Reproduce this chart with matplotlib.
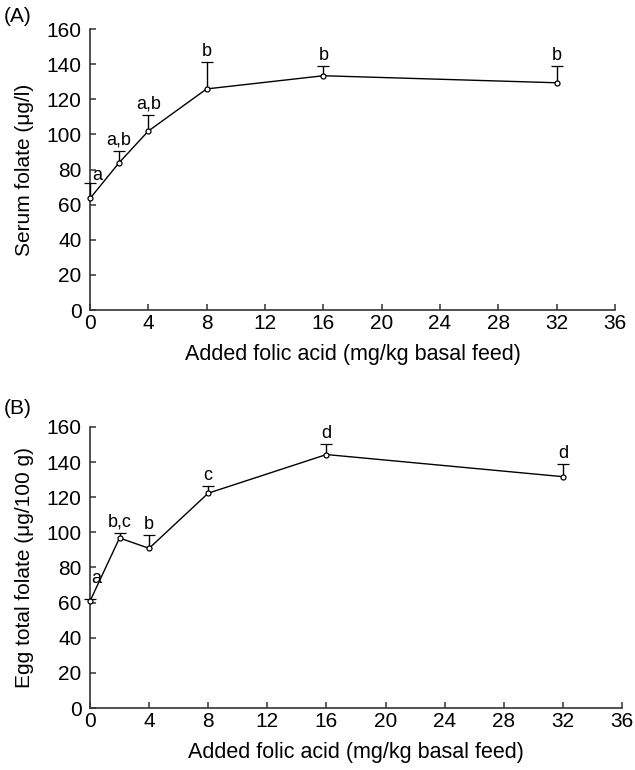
import numpy as np
import matplotlib
matplotlib.use('Agg')
import matplotlib.pyplot as plt

plt.rcParams['font.family'] = ['Liberation Sans', 'DejaVu Sans']

# data
dose = [0, 2, 4, 8, 16, 32]
serum_mean = [63.5, 83.9, 101.9, 125.9, 133.4, 129.4]
serum_err = [9.0, 6.8, 9.3, 15.3, 5.6, 9.7]
serum_letters = ['a', 'a,b', 'a,b', 'b', 'b', 'b']

egg_mean = [60.8, 96.8, 90.9, 122.3, 144.3, 131.7]
egg_err = [1.5, 3.0, 7.6, 4.3, 6.0, 7.1]
egg_letters = ['a', 'b,c', 'b', 'c', 'd', 'd']

xticks = list(range(0, 37, 4))
yticks = list(range(0, 161, 20))

fig = plt.figure(figsize=(6.35, 7.7), dpi=100)
axA = fig.add_axes([0.1417, 0.5974, 0.8268, 0.3649])
axB = fig.add_axes([0.1417, 0.0805, 0.8378, 0.3650])


def panel(ax, mean, err, letters, ylabel, first_off):
    line, caps, bars = ax.errorbar(dose, mean, yerr=[np.zeros(len(err)), err], fmt='-o',
                                   color='black', lw=1.0, ms=3.6, mfc='white', mec='black',
                                   mew=0.9, ecolor='black', elinewidth=1.0, capsize=4,
                                   capthick=1.0, clip_on=False, zorder=3)
    # only the upper bar is drawn
    caps[0].set_visible(False)
    for c in caps[1:]:
        c.set_clip_on(False)
    for i, (x, m, e, t) in enumerate(zip(dose, mean, err, letters)):
        if i == 0:
            ax.annotate(t, (x, m + e), xytext=first_off, textcoords='offset points',
                        ha='left', va='bottom', fontsize=13)
        else:
            ax.annotate(t, (x, m + e), xytext=(0, 1.5), textcoords='offset points',
                        ha='center', va='bottom', fontsize=13)
    ax.set_xlim(0, 36)
    ax.set_ylim(0, 160)
    ax.set_xticks(xticks)
    ax.set_yticks(yticks)
    for s in ['top', 'right']:
        ax.spines[s].set_visible(False)
    for s in ['left', 'bottom']:
        ax.spines[s].set_linewidth(1.2)
        ax.spines[s].set_color('#333333')
    ax.tick_params(direction='in', length=4, width=1.1, color='#333333', labelsize=15)
    ax.tick_params(axis='y', pad=6)
    ax.tick_params(axis='x', pad=3)
    ax.set_xlabel('Added folic acid (mg/kg basal feed)', fontsize=15.5, labelpad=8)
    ax.set_ylabel(ylabel, fontsize=15, labelpad=9)


panel(axA, serum_mean, serum_err, serum_letters, 'Serum folate (\u03bcg/l)', (1.5, -1))
panel(axB, egg_mean, egg_err, egg_letters, 'Egg total folate (\u03bcg/100 g)', (1, 8))

fig.text(0.006, 0.979, '(A)', fontsize=15, va='center', ha='left')
fig.text(0.006, 0.470, '(B)', fontsize=15, va='center', ha='left')

fig.savefig('out.png', dpi=100)
